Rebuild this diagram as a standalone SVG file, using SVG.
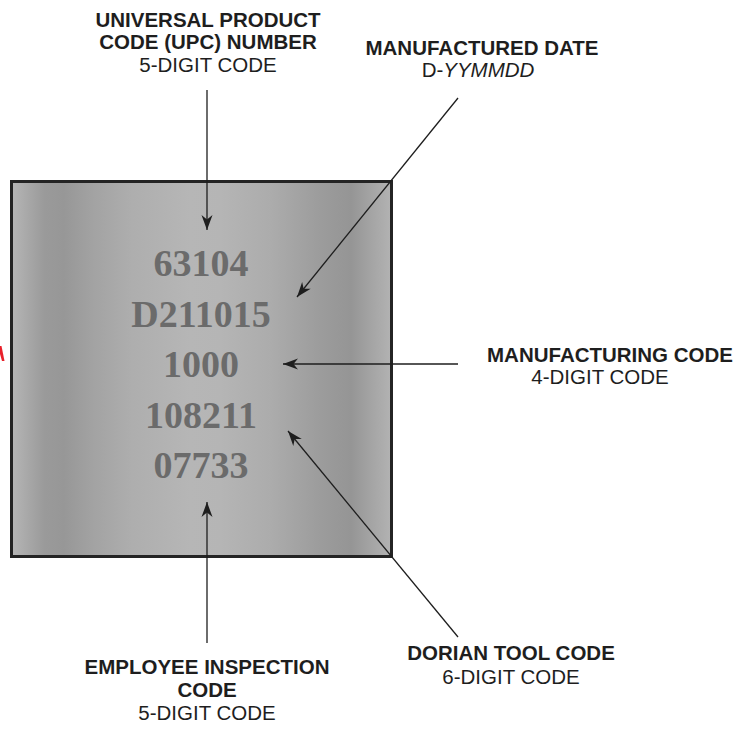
<svg xmlns="http://www.w3.org/2000/svg" width="751" height="732" viewBox="0 0 751 732">
<style>
.lb{font-family:"Liberation Sans",Arial,sans-serif;font-weight:bold;font-size:20.5px;fill:#1e1e1e;text-anchor:middle}
.lr{font-family:"Liberation Sans",Arial,sans-serif;font-size:20.5px;fill:#1e1e1e;text-anchor:middle}
.num{font-family:"Liberation Serif","Times New Roman",serif;font-weight:bold;font-size:38px;fill:#6b6b6b;text-anchor:middle}
.con{stroke:#1e1e1e;stroke-width:1.3;fill:none;marker-end:url(#ah)}
</style>
<defs>
<linearGradient id="metal" gradientUnits="userSpaceOnUse" x1="10" y1="0" x2="393" y2="0">
<stop offset="0" stop-color="#b8b8b8"/>
<stop offset="0.04" stop-color="#aaaaaa"/>
<stop offset="0.09" stop-color="#9a9a9a"/>
<stop offset="0.14" stop-color="#979797"/>
<stop offset="0.22" stop-color="#a3a3a3"/>
<stop offset="0.32" stop-color="#aeaeae"/>
<stop offset="0.47" stop-color="#b6b6b6"/>
<stop offset="0.55" stop-color="#b5b5b5"/>
<stop offset="0.68" stop-color="#acacac"/>
<stop offset="0.81" stop-color="#9c9c9c"/>
<stop offset="0.89" stop-color="#959595"/>
<stop offset="0.95" stop-color="#a6a6a6"/>
<stop offset="1" stop-color="#b4b4b4"/>
</linearGradient>
<marker id="ah" markerUnits="userSpaceOnUse" markerWidth="20" markerHeight="14" viewBox="-16 -7 17 14" refX="0" refY="0" orient="auto">
<path d="M0,0 L-15,-5.5 L-10.5,0 L-15,5.5 Z" fill="#1e1e1e"/>
</marker>
</defs>
<polygon points="0,346 1.5,346 4.5,361 2,361 0,354" fill="#e8202a"/>
<g id="plate">
<rect x="11.5" y="181.5" width="380" height="375" fill="url(#metal)" stroke="#242424" stroke-width="3"/>
<text class="num" x="201" y="276">63104</text>
<text class="num" x="201" y="327">D211015</text>
<text class="num" x="201" y="377">1000</text>
<text class="num" x="201" y="428">108211</text>
<text class="num" x="201" y="478">07733</text>
</g>
<g id="connectors">
<line class="con" x1="207" y1="90" x2="207" y2="230"/>
<line class="con" x1="458" y1="98" x2="297" y2="297"/>
<line class="con" x1="458" y1="364" x2="283" y2="364"/>
<line class="con" x1="458" y1="637" x2="288" y2="431"/>
<line class="con" x1="207" y1="643" x2="207" y2="502"/>
</g>
<g id="upc">
<text class="lb" x="208" y="27">UNIVERSAL PRODUCT</text>
<text class="lb" x="208" y="49">CODE (UPC) NUMBER</text>
<text class="lr" x="208" y="72">5-DIGIT CODE</text>
</g>
<g id="date">
<text class="lb" x="482" y="55">MANUFACTURED DATE</text>
<text class="lr" x="478" y="77">D-<tspan font-style="italic">YYMMDD</tspan></text>
</g>
<g id="mfg">
<text class="lb" x="610" y="362">MANUFACTURING CODE</text>
<text class="lr" x="600" y="384">4-DIGIT CODE</text>
</g>
<g id="dorian">
<text class="lb" x="511" y="660">DORIAN TOOL CODE</text>
<text class="lr" x="511" y="684">6-DIGIT CODE</text>
</g>
<g id="employee">
<text class="lb" x="207" y="674">EMPLOYEE INSPECTION</text>
<text class="lb" x="207" y="697">CODE</text>
<text class="lr" x="207" y="720">5-DIGIT CODE</text>
</g>
</svg>
